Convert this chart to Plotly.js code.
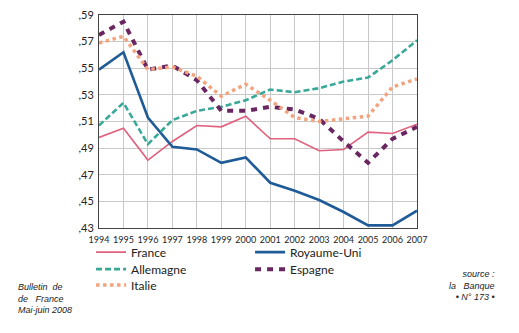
<!DOCTYPE html>
<html><head><meta charset="utf-8">
<script src="https://cdn.plot.ly/plotly-3.0.1.min.js"></script>
<style>body{margin:0;background:#fff}#c{width:519px;height:333px}</style>
</head><body><div id="c"></div>
<script>
const years = [1994,1995,1996,1997,1998,1999,2000,2001,2002,2003,2004,2005,2006,2007];
const france    = [0.498,0.505,0.481,0.495,0.507,0.506,0.514,0.497,0.497,0.488,0.489,0.502,0.501,0.508];
const royaumeUni= [0.549,0.562,0.513,0.491,0.489,0.479,0.483,0.464,0.458,0.451,0.442,0.432,0.432,0.443];
const allemagne = [0.507,0.524,0.493,0.511,0.518,0.521,0.526,0.534,0.532,0.535,0.540,0.543,0.556,0.571];
const espagne   = [0.575,0.585,0.549,0.552,0.541,0.518,0.518,0.521,0.519,0.512,0.495,0.479,0.497,0.506];
const italie    = [0.569,0.574,0.549,0.551,0.544,0.529,0.538,0.526,0.513,0.510,0.512,0.514,0.536,0.542];
const yTicks = [0.43,0.45,0.47,0.49,0.51,0.53,0.55,0.57,0.59];
const yTickText = [",43",",45",",47",",49",",51",",53",",55",",57",",59"];

const traces = [
  {name:'France', y:france, line:{color:'#e0607e', width:1.6}, legend:'legend'},
  {name:'Royaume-Uni', y:royaumeUni, line:{color:'#1f5b97', width:2.6}, legend:'legend2'},
  {name:'Allemagne', y:allemagne, line:{color:'#3aa898', width:2.6, dash:'6px,3px'}, legend:'legend3'},
  {name:'Espagne', y:espagne, line:{color:'#6a2660', width:4, dash:'6px,6px'}, legend:'legend4'},
  {name:'Italie', y:italie, line:{color:'#f2a47e', width:3.5, dash:'dot'}, legend:'legend5'}
].map(t => Object.assign({x:years, type:'scatter', mode:'lines'}, t));

function leg(x, y) {
  return {orientation:'v', xanchor:'left', yanchor:'top', x:x, y:y,
    font:{family:'Lato, DejaVu Sans, sans-serif', size:12, color:'#222'},
    bgcolor:'rgba(0,0,0,0)', tracegroupgap:0, itemwidth:30};
}

const layout = {
  width:519, height:333,
  margin:{l:99, r:102, t:15, b:105},
  paper_bgcolor:'#fff', plot_bgcolor:'#fff',
  showlegend:true,
  xaxis:{range:[1994,2007], tickvals:years, ticktext:years.map(String), tickangle:0,
    ticklabelstandoff:3,
    showgrid:true, gridcolor:'#c8c8c8', gridwidth:1,
    showline:true, linecolor:'#444', linewidth:1, mirror:true, ticks:'',
    tickfont:{family:'Lato, DejaVu Sans, sans-serif', size:9, color:'#222'}, zeroline:false},
  yaxis:{range:[0.43,0.59], tickvals:yTicks, ticktext:yTickText,
    ticklabelstandoff:2,
    showgrid:true, gridcolor:'#c8c8c8', gridwidth:1,
    showline:true, linecolor:'#444', linewidth:1, mirror:true, ticks:'',
    tickfont:{family:'Lato, DejaVu Sans, sans-serif', size:11, color:'#222'}, zeroline:false},
  legend: leg(-0.025, -0.045),
  legend2: leg(0.475, -0.045),
  legend3: leg(-0.025, -0.125),
  legend4: leg(0.475, -0.125),
  legend5: leg(-0.025, -0.200),
  annotations:[
    {xref:'paper', yref:'paper', x:-0.262, y:-0.245, xanchor:'left', yanchor:'top', align:'left', showarrow:false,
     text:'<i>Bulletin  de<br>de   France<br>Mai-juin 2008</i>', font:{family:'Liberation Sans, Arial, sans-serif', size:9, color:'#222'}},
    {xref:'paper', yref:'paper', x:1.252, y:-0.185, xanchor:'right', yanchor:'top', align:'right', showarrow:false,
     text:'<i>source :<br>la   Banque<br>• N° 173 •</i>', font:{family:'Liberation Sans, Arial, sans-serif', size:9, color:'#222'}}
  ]
};
Plotly.newPlot('c', traces, layout, {staticPlot:true, displayModeBar:false});
</script></body></html>
